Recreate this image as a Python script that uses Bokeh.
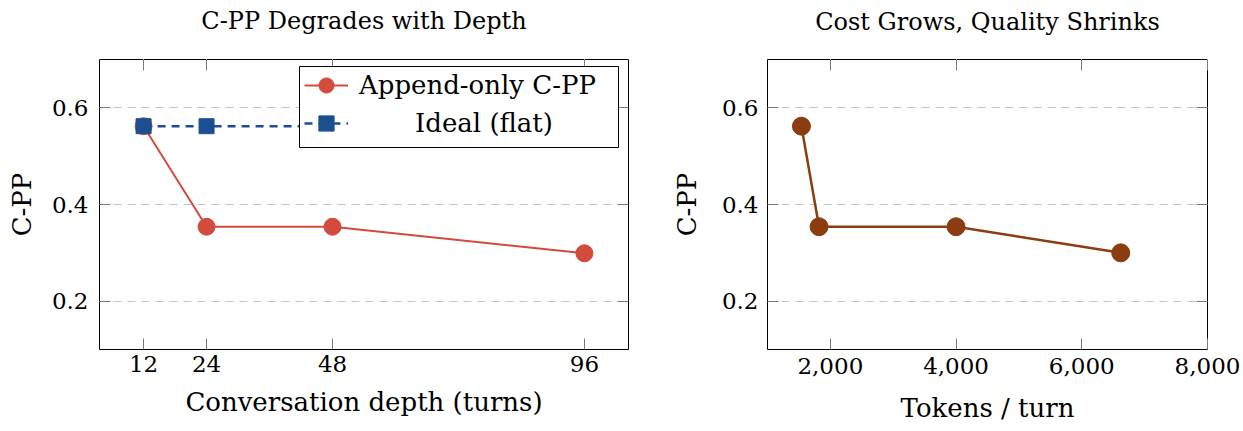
from bokeh.plotting import figure
from bokeh.models import (FixedTicker, LinearAxis, Range1d, PrintfTickFormatter,
                          NumeralTickFormatter, Legend, LegendItem, BoxAnnotation, Title)
from bokeh.layouts import row
from bokeh.embed import file_html
from bokeh.resources import INLINE

# ---- data ----
depth = [12, 24, 48, 96]
append_cpp = [0.562, 0.354, 0.354, 0.299]
ideal_cpp = [0.562, 0.562, 0.562, 0.562]
tokens = [1540, 1820, 4000, 6620]
tokens_cpp = [0.562, 0.354, 0.354, 0.300]
depth_ticks = [12, 24, 48, 96]
cpp_ticks = [0.2, 0.4, 0.6]
token_ticks = [2000, 4000, 6000, 8000]

FONT = "DejaVu Serif"
RED = "#d24b3c"
BLUE = "#1c4f92"
BROWN = "#8b3c11"
TICK_COLOR = "#7a7a7a"


def style(p, xticks, x_formatter, title, xlabel, top_push, tick_standoff, label_standoff):
    try:
        p.title = None
    except Exception:
        p.title.text = ""
    p.background_fill_color = "white"
    p.border_fill_color = "white"
    p.outline_line_color = "black"
    p.outline_line_width = 1
    p.outline_line_alpha = 1
    p.xgrid.grid_line_color = None
    p.ygrid.grid_line_color = "#c4c4c4"
    p.ygrid.grid_line_dash = "8 6"
    p.ygrid.grid_line_width = 1
    p.xaxis.ticker = FixedTicker(ticks=xticks)
    p.yaxis.ticker = FixedTicker(ticks=cpp_ticks)
    p.xaxis.formatter = x_formatter
    p.yaxis.formatter = PrintfTickFormatter(format="%.1f")
    p.xaxis.axis_label = xlabel
    p.yaxis.axis_label = "C-PP"
    p.xaxis.major_label_standoff = tick_standoff
    p.xaxis.axis_label_standoff = label_standoff
    p.yaxis.major_label_standoff = 11
    p.yaxis.axis_label_standoff = 12
    for ax in p.xaxis + p.yaxis:
        ax.axis_line_color = None
        ax.major_tick_in = 11
        ax.major_tick_out = 0
        ax.major_tick_line_color = TICK_COLOR
        ax.minor_tick_line_color = None
        ax.major_label_text_font = FONT
        ax.major_label_text_font_size = "23px"
        ax.major_label_text_color = "black"
        ax.axis_label_text_font = FONT
        ax.axis_label_text_font_size = "26px"
        ax.axis_label_text_font_style = "normal"
        ax.axis_label_text_color = "black"
    # mirrored ticks on top and right (no labels)
    top = LinearAxis(ticker=FixedTicker(ticks=xticks), axis_line_color=None,
                     major_tick_in=11, major_tick_out=0,
                     major_tick_line_color=TICK_COLOR, minor_tick_line_color=None,
                     major_label_text_color=None, major_label_text_font_size="1px",
                     major_label_standoff=0)
    right = LinearAxis(ticker=FixedTicker(ticks=cpp_ticks), axis_line_color=None,
                       major_tick_in=11, major_tick_out=0,
                       major_tick_line_color=TICK_COLOR, minor_tick_line_color=None,
                       major_label_text_color=None, major_label_text_font_size="1px",
                       major_label_standoff=0)
    p.add_layout(top, "above")
    p.add_layout(right, "right")
    # blank band (white outward ticks on white) between the frame and the title
    spacer = LinearAxis(ticker=FixedTicker(ticks=xticks), axis_line_color=None,
                        major_tick_in=0, major_tick_out=top_push,
                        major_tick_line_color="white", minor_tick_line_color=None,
                        major_label_text_color=None, major_label_text_font_size="1px",
                        major_label_standoff=0)
    p.add_layout(spacer, "above")
    p.add_layout(Title(text=title, text_font=FONT, text_font_size="24px",
                       text_font_style="normal", text_color="black",
                       align="center", standoff=0), "above")


# ---- left chart ----
p1 = figure(width=668, height=431, x_range=Range1d(3.6, 104.4), y_range=Range1d(0.1, 0.7),
            output_backend="svg", toolbar_location=None,
            min_border_left=99, min_border_right=40, min_border_top=59, min_border_bottom=76)
style(p1, depth_ticks, PrintfTickFormatter(format="%d"),
      "C-PP Degrades with Depth", "Conversation depth (turns)", 25, 6, 12)

r_red_line = p1.line(depth, append_cpp, line_color=RED, line_width=2)
r_red_pts = p1.scatter(depth, append_cpp, marker="circle", size=17, fill_color=RED, line_color=RED)
r_blue_line = p1.line(depth, ideal_cpp, line_color=BLUE, line_width=2.5, line_dash="8 6")
r_blue_pts = p1.scatter(depth, ideal_cpp, marker="square", size=15, fill_color=BLUE, line_color=BLUE)

legend_box = BoxAnnotation(left=299, right=618, top=66, bottom=147,
                           left_units="canvas", right_units="canvas",
                           top_units="canvas", bottom_units="canvas",
                           fill_color="white", fill_alpha=1,
                           line_color="black", line_width=1, line_alpha=1)
p1.add_layout(legend_box)

common = dict(label_text_font=FONT, label_text_font_size="26px", label_text_color="black",
              glyph_width=44, glyph_height=38, label_height=38, padding=4, spacing=0,
              margin=0, background_fill_alpha=0, border_line_color=None)
leg_a = Legend(items=[LegendItem(label="Append-only C-PP", renderers=[r_red_line, r_red_pts])],
               location=(205, 245), label_standoff=11, **common)
leg_b = Legend(items=[LegendItem(label="Ideal (flat)", renderers=[r_blue_line, r_blue_pts])],
               location=(205, 207), label_standoff=67, **common)
p1.add_layout(leg_a)
p1.add_layout(leg_b)

# ---- right chart ----
p2 = figure(width=574, height=431, x_range=Range1d(1000, 8000), y_range=Range1d(0.1, 0.7),
            output_backend="svg", toolbar_location=None,
            min_border_left=97, min_border_right=35, min_border_top=54, min_border_bottom=82)
style(p2, token_ticks, NumeralTickFormatter(format="0,0"),
      "Cost Grows, Quality Shrinks", "Tokens / turn", 24, 8, 16)
p2.yaxis[0].major_label_standoff = 9
p2.yaxis[0].axis_label_standoff = 17
p2.line(tokens, tokens_cpp, line_color=BROWN, line_width=2.5)
p2.scatter(tokens, tokens_cpp, marker="circle", size=18, fill_color=BROWN, line_color=BROWN)

layout = row(p1, p2)
open("out.html", "w").write(file_html(layout, INLINE))
